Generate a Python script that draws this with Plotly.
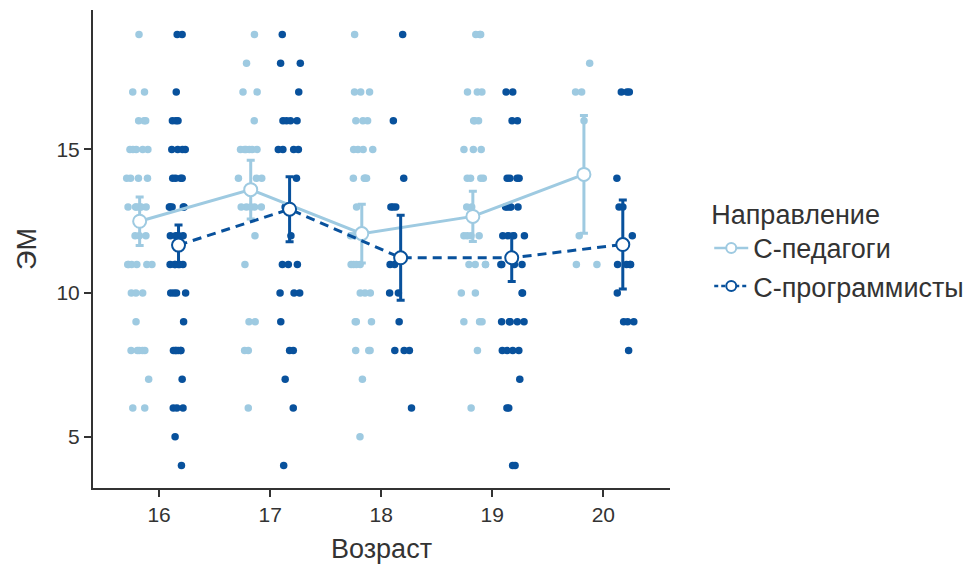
import plotly.graph_objects as go

# ---------------- data ----------------
ages = [16, 17, 18, 19, 20]
series_names = ["С-педагоги", "С-программисты"]

# group means and confidence-interval half widths
ped_means = [12.50, 13.60, 12.07, 12.67, 14.13]
ped_ci = [0.84, 1.02, 1.02, 0.87, 2.05]
prog_means = [11.67, 12.92, 11.23, 11.23, 11.69]
prog_ci = [0.70, 1.13, 1.48, 0.83, 1.55]

# raw observations per age group
ped_16 = [19, 17, 17, 16, 16, 16, 15, 15, 15, 15, 15, 14, 14, 14, 14,
          13, 13, 13, 13, 13, 13, 12, 12, 12, 11, 11, 11, 11, 11, 11,
          10, 10, 10, 9, 8, 8, 8, 8, 8, 7, 6, 6]
ped_17 = [19, 18, 17, 17, 16, 15, 15, 15, 15, 15, 15, 14, 14, 14,
          13, 13, 13, 13, 13, 12, 11, 9, 9, 8, 8, 6]
ped_18 = [19, 17, 17, 17, 16, 16, 16, 15, 15, 15, 15, 14, 14, 14, 14,
          13, 12, 12, 11, 11, 11, 11, 10, 10, 10, 9, 9, 9, 8, 8, 8, 7, 5]
ped_19 = [19, 19, 19, 17, 17, 17, 16, 16, 16, 15, 15, 15, 14, 14, 14, 14,
          13, 13, 12, 12, 12, 12, 11, 11, 11, 11, 10, 10, 9, 9, 9, 8, 6]
ped_20 = [18, 17, 17, 16, 12, 11, 11]

prog_16 = [19, 19, 17, 16, 16, 16, 15, 15, 15, 15, 14, 14, 14, 14,
           13, 13, 13, 13, 13, 12, 12, 12, 12, 12, 11, 11, 11, 11, 11, 11,
           10, 10, 10, 10, 9, 8, 8, 8, 8, 8, 8, 7, 6, 6, 6, 5, 4]
prog_17 = [19, 18, 18, 17, 16, 16, 16, 16, 15, 15, 15, 15, 14, 13, 12,
           11, 11, 11, 10, 10, 10, 9, 8, 8, 7, 6, 4]
prog_18 = [19, 16, 14, 13, 13, 13, 11, 11, 10, 10, 9, 8, 8, 8, 6]
prog_19 = [17, 17, 16, 16, 14, 14, 14, 14, 13, 13, 13, 13, 13,
           12, 12, 12, 12, 11, 11, 11, 11, 10, 10, 9, 9, 9, 9, 9,
           8, 8, 8, 8, 7, 6, 6, 4, 4]
prog_20 = [17, 17, 17, 14, 13, 13, 12, 11, 11, 11, 11, 10, 9, 9, 9, 8]

ped_groups = [ped_16, ped_17, ped_18, ped_19, ped_20]
prog_groups = [prog_16, prog_17, prog_18, prog_19, prog_20]

# ---------------- style ----------------
LIGHT = "#9ecae1"
DARK = "#08519c"
DODGE = 0.175
FONT = "Liberation Sans, Arial, sans-serif"
TXT = "#333333"

fig = go.Figure()

# jittered raw points (library jitter via box points, boxes hidden)
for groups, col, sign in [(ped_groups, LIGHT, -1), (prog_groups, DARK, 1)]:
    xs, ys = [], []
    for age, vals in zip(ages, groups):
        xs += [age + sign * DODGE] * len(vals)
        ys += vals
    fig.add_trace(go.Box(
        x=xs, y=ys, boxpoints="all", jitter=1, pointpos=0, width=0.25,
        fillcolor="rgba(0,0,0,0)", line=dict(width=0, color="rgba(0,0,0,0)"),
        marker=dict(color=col, size=7.5, opacity=1),
        showlegend=False, hoveron="points",
    ))

styles = [
    (series_names[0], ped_means, ped_ci, LIGHT, -1, "solid", "a"),
    (series_names[1], prog_means, prog_ci, DARK, 1, "9px,6px", "b"),
]

# means with CI error bars
for name, means, ci, col, sign, dash, grp in styles:
    fig.add_trace(go.Scatter(
        x=[a + sign * DODGE for a in ages], y=means,
        mode="lines+markers", name=name, legendgroup=grp, showlegend=False,
        line=dict(color=col, width=3, dash=dash),
        marker=dict(size=13, color="white", line=dict(color=col, width=2)),
        error_y=dict(type="data", array=ci, visible=True,
                     color=col, thickness=3, width=4),
    ))

# legend-only entries with smaller symbols
for name, means, ci, col, sign, dash, grp in styles:
    fig.add_trace(go.Scatter(
        x=[None], y=[None], mode="lines+markers", name=name, legendgroup=grp,
        line=dict(color=col, width=2.5, dash="solid" if dash == "solid" else "4px,3px"),
        marker=dict(size=10, color="white", line=dict(color=col, width=2)),
    ))

fig.update_layout(
    width=968, height=561,
    margin=dict(l=85, r=306, t=2, b=81),
    paper_bgcolor="white", plot_bgcolor="white",
    font=dict(family=FONT, color=TXT, size=20),
    showlegend=True,
    legend=dict(
        x=1.068, xanchor="left", y=0.626, yanchor="top",
        title=dict(text="Направление", font=dict(size=27, color=TXT)),
        font=dict(size=27, color=TXT),
        traceorder="grouped", tracegroupgap=0, itemwidth=34,
        bgcolor="rgba(0,0,0,0)",
    ),
)
fig.update_xaxes(
    range=[15.405, 20.6], tickvals=ages, ticktext=[str(a) for a in ages],
    showline=True, linecolor=TXT, linewidth=2, showgrid=False, zeroline=False,
    ticks="outside", ticklen=7, tickwidth=2, tickcolor=TXT,
    tickfont=dict(size=21, color=TXT),
    title=dict(text="Возраст", font=dict(size=27, color=TXT), standoff=14),
)
fig.update_yaxes(
    range=[3.22, 19.85], tickvals=[5, 10, 15],
    showline=True, linecolor=TXT, linewidth=2, showgrid=False, zeroline=False,
    ticks="outside", ticklen=7, tickwidth=2, tickcolor=TXT,
    tickfont=dict(size=21, color=TXT),
    title=dict(text="ЭМ", font=dict(size=27, color=TXT), standoff=12),
)

fig.write_html("out.html")
